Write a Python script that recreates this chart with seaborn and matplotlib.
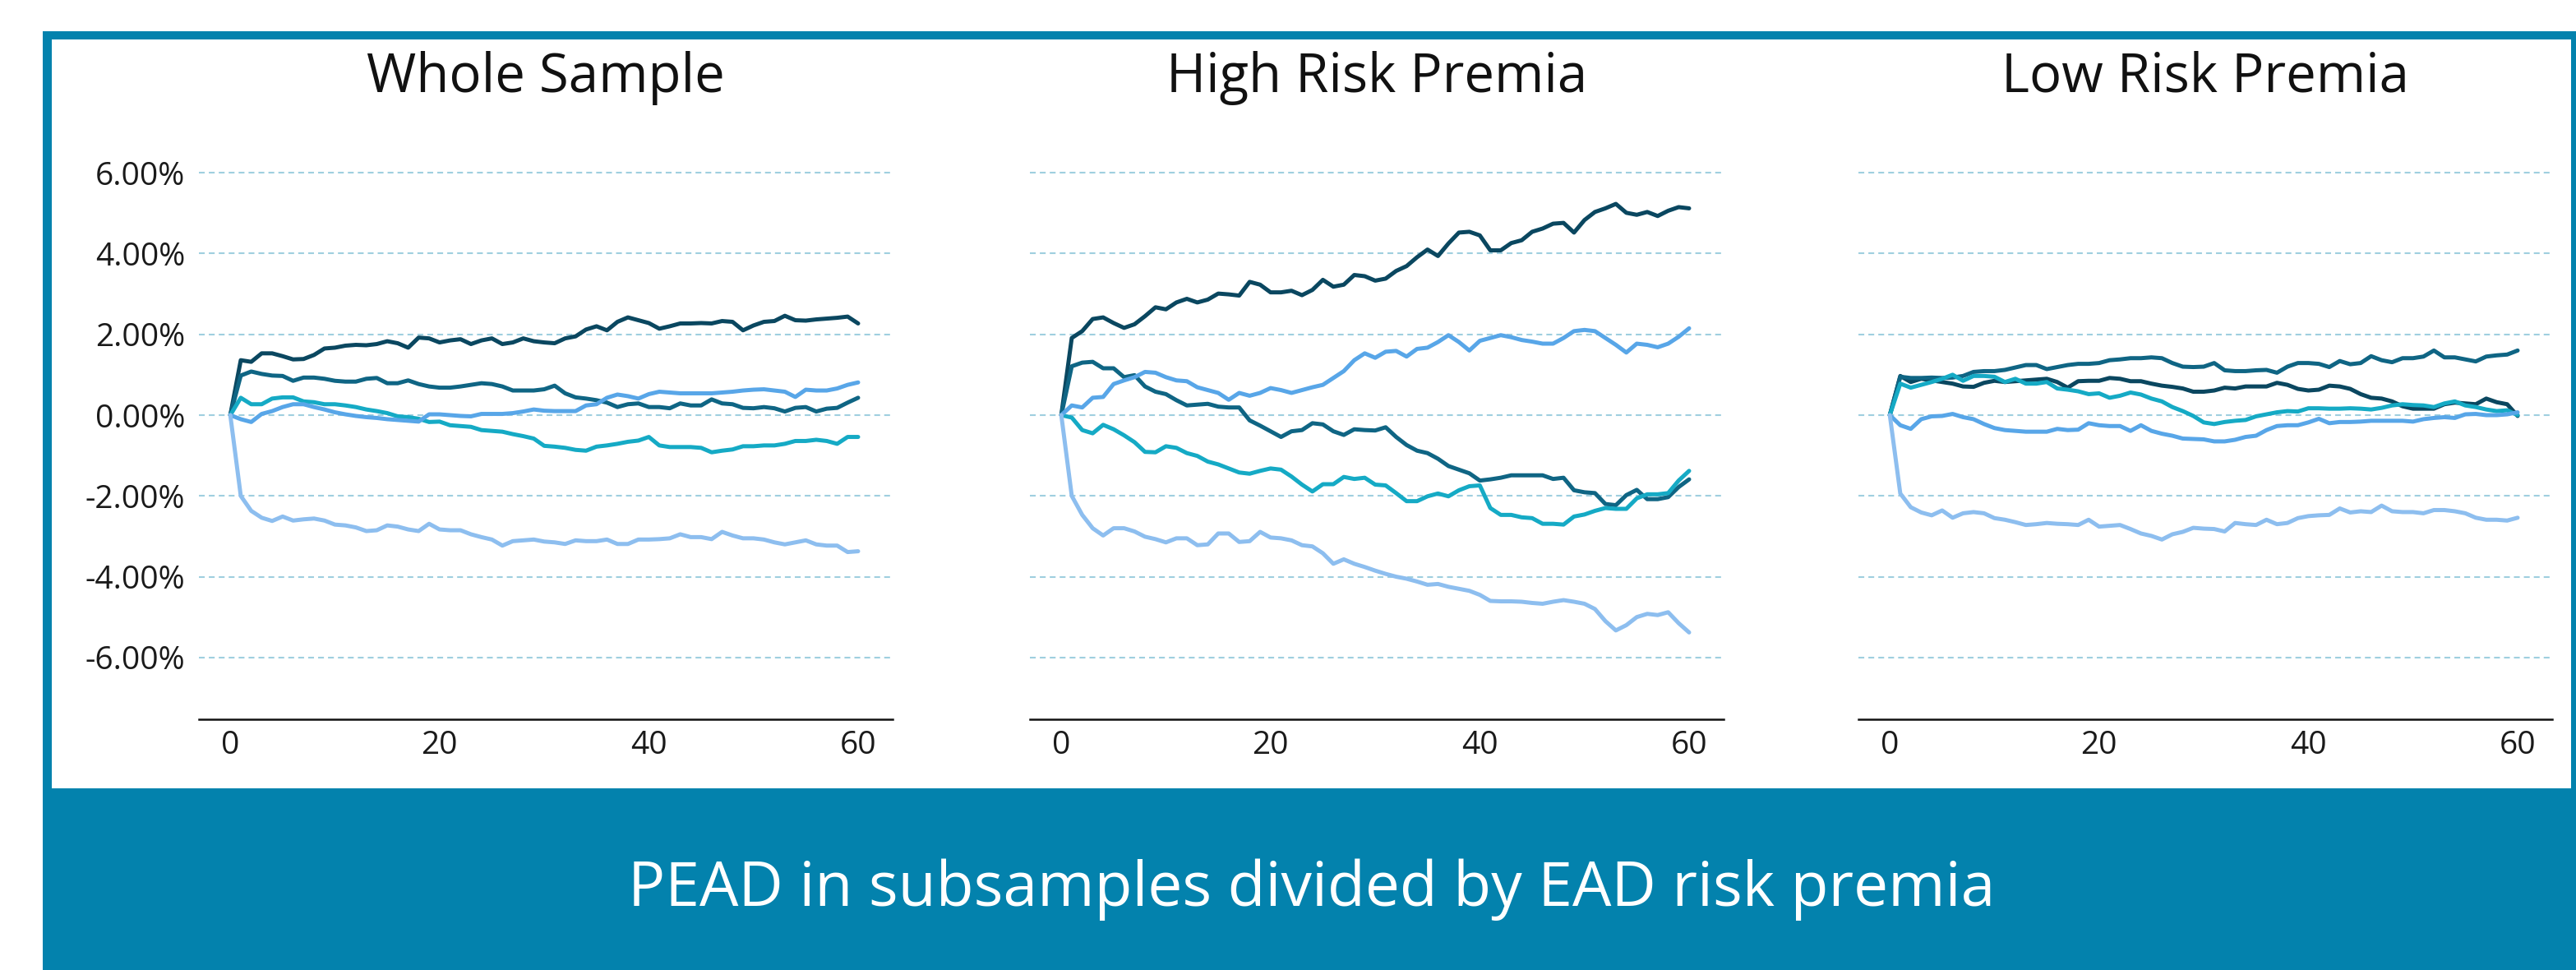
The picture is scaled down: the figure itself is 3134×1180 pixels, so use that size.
import pandas as pd
import seaborn as sns
import matplotlib
matplotlib.use("Agg")
import matplotlib.pyplot as plt
from matplotlib.patches import Rectangle
from matplotlib.ticker import FuncFormatter

W, H = 3134, 1180
TEAL = "#0382AD"

DAYS = list(range(61))
TITLES = ["Whole Sample", "High Risk Premia", "Low Risk Premia"]
SERIES = ["s1", "s2", "s3", "s4", "s5"]
COLORS = {"s1": "#0A4760", "s2": "#0F6584", "s3": "#15AAC5", "s4": "#58A6E8", "s5": "#8DBEEF"}
YTICKS = [-6, -4, -2, 0, 2, 4, 6]
XTICKS = [0, 20, 40, 60]
CAPTION = "PEAD in subsamples divided by EAD risk premia"

# whole sample (cumulative %)
whole_s1 = [0, 1.36, 1.32, 1.53, 1.53, 1.46, 1.38, 1.39, 1.49, 1.65, 1.67, 1.72, 1.74, 1.73, 1.76, 1.83, 1.78, 1.67, 1.92, 1.90,
            1.80, 1.85, 1.88, 1.76, 1.85, 1.90, 1.76, 1.80, 1.90, 1.83, 1.80, 1.78, 1.90, 1.95, 2.12, 2.20, 2.10, 2.31, 2.42, 2.35,
            2.28, 2.14, 2.20, 2.27, 2.27, 2.28, 2.27, 2.33, 2.31, 2.10, 2.22, 2.31, 2.33, 2.46, 2.35, 2.34, 2.37, 2.39, 2.41, 2.44, 2.27]
whole_s2 = [0, 0.98, 1.08, 1.02, 0.98, 0.97, 0.85, 0.93, 0.93, 0.90, 0.85, 0.83, 0.83, 0.90, 0.92, 0.79, 0.79, 0.86, 0.77, 0.71,
            0.68, 0.68, 0.71, 0.75, 0.79, 0.77, 0.71, 0.61, 0.61, 0.61, 0.64, 0.73, 0.54, 0.44, 0.41, 0.37, 0.31, 0.20, 0.27, 0.29,
            0.20, 0.20, 0.17, 0.29, 0.24, 0.24, 0.39, 0.29, 0.27, 0.18, 0.17, 0.20, 0.17, 0.09, 0.18, 0.20, 0.09, 0.16, 0.18, 0.31, 0.43]
whole_s3 = [0, 0.43, 0.27, 0.27, 0.41, 0.44, 0.44, 0.34, 0.32, 0.27, 0.27, 0.24, 0.20, 0.14, 0.10, 0.05, -0.03, -0.05, -0.09, -0.17,
            -0.16, -0.25, -0.27, -0.29, -0.37, -0.39, -0.41, -0.47, -0.52, -0.58, -0.76, -0.78, -0.81, -0.86, -0.88, -0.78, -0.75, -0.71, -0.66, -0.63,
            -0.54, -0.75, -0.79, -0.79, -0.79, -0.81, -0.92, -0.88, -0.85, -0.77, -0.77, -0.75, -0.75, -0.71, -0.64, -0.64, -0.61, -0.64, -0.71, -0.54, -0.54]
whole_s4 = [0, -0.10, -0.17, 0.03, 0.10, 0.20, 0.27, 0.27, 0.20, 0.14, 0.07, 0.02, -0.02, -0.05, -0.07, -0.10, -0.12, -0.14, -0.16, 0.02,
            0.02, 0.00, -0.02, -0.03, 0.03, 0.03, 0.03, 0.05, 0.09, 0.14, 0.11, 0.10, 0.10, 0.10, 0.24, 0.27, 0.43, 0.51, 0.47, 0.41,
            0.52, 0.58, 0.56, 0.54, 0.54, 0.54, 0.54, 0.56, 0.58, 0.61, 0.63, 0.64, 0.61, 0.58, 0.45, 0.63, 0.61, 0.61, 0.66, 0.75, 0.81]
whole_s5 = [0, -2.00, -2.37, -2.54, -2.62, -2.51, -2.61, -2.58, -2.56, -2.61, -2.71, -2.73, -2.78, -2.87, -2.85, -2.73, -2.76, -2.83, -2.87, -2.69,
            -2.83, -2.85, -2.85, -2.95, -3.02, -3.08, -3.23, -3.12, -3.10, -3.08, -3.13, -3.15, -3.19, -3.10, -3.12, -3.12, -3.08, -3.19, -3.19, -3.08,
            -3.08, -3.07, -3.05, -2.95, -3.02, -3.02, -3.07, -2.89, -2.98, -3.05, -3.05, -3.08, -3.15, -3.20, -3.15, -3.10, -3.20, -3.23, -3.23, -3.39, -3.37]

# high risk premia
high_s1 = [0, 1.91, 2.08, 2.38, 2.42, 2.28, 2.16, 2.25, 2.45, 2.67, 2.62, 2.79, 2.88, 2.79, 2.86, 3.01, 2.99, 2.96, 3.30, 3.23,
           3.04, 3.04, 3.08, 2.97, 3.10, 3.35, 3.18, 3.23, 3.47, 3.44, 3.33, 3.38, 3.57, 3.69, 3.91, 4.10, 3.94, 4.25, 4.52, 4.54,
           4.45, 4.08, 4.08, 4.26, 4.33, 4.54, 4.62, 4.74, 4.76, 4.52, 4.83, 5.03, 5.12, 5.23, 5.01, 4.96, 5.03, 4.93, 5.06, 5.15, 5.12]
high_s2 = [0, 1.21, 1.30, 1.32, 1.16, 1.16, 0.94, 0.99, 0.71, 0.58, 0.52, 0.37, 0.24, 0.26, 0.28, 0.21, 0.19, 0.19, -0.13, -0.26,
           -0.40, -0.54, -0.40, -0.37, -0.20, -0.23, -0.40, -0.49, -0.35, -0.37, -0.38, -0.30, -0.54, -0.74, -0.88, -0.94, -1.08, -1.26, -1.35, -1.44,
           -1.62, -1.59, -1.55, -1.49, -1.49, -1.49, -1.49, -1.58, -1.55, -1.86, -1.91, -1.93, -2.20, -2.23, -1.98, -1.85, -2.08, -2.08, -2.03, -1.78, -1.59]
high_s3 = [0, -0.06, -0.37, -0.45, -0.24, -0.35, -0.50, -0.67, -0.91, -0.92, -0.77, -0.81, -0.94, -1.01, -1.15, -1.22, -1.32, -1.42, -1.45, -1.38,
           -1.32, -1.35, -1.52, -1.72, -1.89, -1.71, -1.71, -1.53, -1.58, -1.55, -1.72, -1.74, -1.93, -2.13, -2.13, -2.01, -1.94, -2.01, -1.86, -1.76,
           -1.74, -2.30, -2.47, -2.47, -2.53, -2.55, -2.69, -2.69, -2.71, -2.51, -2.46, -2.37, -2.30, -2.32, -2.32, -2.06, -1.96, -1.96, -1.93, -1.62, -1.38]
high_s4 = [0, 0.24, 0.19, 0.43, 0.45, 0.77, 0.86, 0.94, 1.07, 1.05, 0.94, 0.86, 0.84, 0.69, 0.62, 0.55, 0.38, 0.55, 0.48, 0.55,
           0.67, 0.62, 0.55, 0.62, 0.69, 0.75, 0.92, 1.09, 1.36, 1.53, 1.42, 1.57, 1.59, 1.45, 1.64, 1.67, 1.81, 1.98, 1.81, 1.60,
           1.84, 1.91, 1.98, 1.93, 1.86, 1.82, 1.77, 1.77, 1.91, 2.08, 2.11, 2.08, 1.91, 1.74, 1.55, 1.77, 1.74, 1.68, 1.77, 1.94, 2.15]
high_s5 = [0, -2.00, -2.47, -2.80, -2.98, -2.80, -2.80, -2.88, -3.01, -3.07, -3.15, -3.05, -3.05, -3.22, -3.20, -2.93, -2.93, -3.14, -3.12, -2.89,
           -3.03, -3.05, -3.10, -3.22, -3.25, -3.42, -3.68, -3.57, -3.68, -3.76, -3.85, -3.93, -4.00, -4.05, -4.12, -4.20, -4.18, -4.25, -4.30, -4.35,
           -4.45, -4.60, -4.61, -4.61, -4.62, -4.65, -4.67, -4.62, -4.58, -4.62, -4.67, -4.80, -5.10, -5.33, -5.20, -5.00, -4.92, -4.95, -4.88, -5.15, -5.38]

# low risk premia
low_s1 = [0, 0.97, 0.82, 0.90, 0.86, 0.82, 0.78, 0.71, 0.70, 0.80, 0.85, 0.82, 0.84, 0.86, 0.88, 0.90, 0.82, 0.68, 0.84, 0.85,
          0.85, 0.92, 0.90, 0.84, 0.84, 0.78, 0.73, 0.70, 0.66, 0.58, 0.58, 0.61, 0.68, 0.66, 0.71, 0.71, 0.71, 0.80, 0.75, 0.65,
          0.61, 0.63, 0.73, 0.71, 0.65, 0.52, 0.43, 0.41, 0.34, 0.22, 0.16, 0.16, 0.16, 0.27, 0.31, 0.29, 0.27, 0.41, 0.32, 0.27, -0.02]
low_s2 = [0, 0.95, 0.92, 0.92, 0.93, 0.92, 0.93, 0.97, 1.07, 1.09, 1.09, 1.12, 1.18, 1.24, 1.24, 1.14, 1.19, 1.24, 1.27, 1.27,
          1.29, 1.36, 1.38, 1.41, 1.41, 1.43, 1.41, 1.29, 1.20, 1.19, 1.20, 1.29, 1.11, 1.09, 1.09, 1.11, 1.12, 1.05, 1.20, 1.29,
          1.29, 1.27, 1.19, 1.34, 1.26, 1.29, 1.46, 1.36, 1.31, 1.41, 1.41, 1.45, 1.60, 1.43, 1.43, 1.38, 1.33, 1.45, 1.48, 1.50, 1.60]
low_s3 = [0, 0.78, 0.68, 0.75, 0.82, 0.90, 1.00, 0.85, 0.97, 0.97, 0.95, 0.82, 0.90, 0.78, 0.78, 0.82, 0.66, 0.63, 0.59, 0.52,
          0.54, 0.43, 0.48, 0.56, 0.51, 0.41, 0.34, 0.20, 0.10, -0.02, -0.18, -0.22, -0.17, -0.14, -0.12, -0.03, 0.02, 0.07, 0.10, 0.09,
          0.17, 0.17, 0.16, 0.16, 0.17, 0.16, 0.14, 0.18, 0.24, 0.27, 0.25, 0.24, 0.20, 0.29, 0.34, 0.24, 0.20, 0.14, 0.10, 0.12, 0.00]
low_s4 = [0, -0.25, -0.34, -0.10, -0.03, -0.02, 0.03, -0.05, -0.10, -0.22, -0.32, -0.37, -0.39, -0.41, -0.41, -0.41, -0.34, -0.37, -0.36, -0.20,
          -0.25, -0.27, -0.27, -0.39, -0.25, -0.39, -0.46, -0.51, -0.58, -0.59, -0.60, -0.65, -0.65, -0.61, -0.54, -0.51, -0.37, -0.27, -0.25, -0.25,
          -0.18, -0.09, -0.20, -0.17, -0.17, -0.16, -0.14, -0.14, -0.14, -0.14, -0.16, -0.10, -0.07, -0.05, -0.07, 0.02, 0.03, 0.00, 0.00, 0.02, 0.07]
low_s5 = [0, -1.94, -2.28, -2.41, -2.48, -2.36, -2.54, -2.43, -2.40, -2.43, -2.55, -2.59, -2.65, -2.72, -2.70, -2.67, -2.69, -2.70, -2.72, -2.59,
          -2.76, -2.74, -2.72, -2.82, -2.93, -2.99, -3.08, -2.95, -2.89, -2.79, -2.81, -2.82, -2.88, -2.67, -2.70, -2.72, -2.59, -2.70, -2.67, -2.55,
          -2.50, -2.48, -2.47, -2.31, -2.41, -2.38, -2.40, -2.24, -2.38, -2.40, -2.40, -2.43, -2.35, -2.35, -2.38, -2.43, -2.54, -2.59, -2.59, -2.61, -2.54]

PANELS = [
  [whole_s1, whole_s2, whole_s3, whole_s4, whole_s5],
  [high_s1, high_s2, high_s3, high_s4, high_s5],
  [low_s1, low_s2, low_s3, low_s4, low_s5],
]


def to_long(series_list):
  frames = []
  for name, vals in zip(SERIES, series_list):
    frames.append(pd.DataFrame({"day": DAYS, "value": vals, "series": name}))
  return pd.concat(frames, ignore_index=True)


def px_rect(fig, x0, y0, x1, y1):
  # pixel box measured from the top-left corner
  fig.add_artist(Rectangle((x0 / W, 1 - y1 / H), (x1 - x0) / W, (y1 - y0) / H,
                           transform=fig.transFigure, facecolor=TEAL, edgecolor="none", zorder=0))


def main():
  sns.set_style("white")
  plt.rcParams["font.family"] = ["Open Sans", "DejaVu Sans"]

  fig = plt.figure(figsize=(W / 100, H / 100), dpi=100)
  fig.patch.set_facecolor("white")

  lefts = [242, 1253, 2261]
  for i, left in enumerate(lefts):
    ax = fig.add_axes([left / W, (H - 874.5) / H, 844 / W, 738 / H])
    df = to_long(PANELS[i])
    sns.lineplot(data=df, x="day", y="value", hue="series", hue_order=SERIES,
                 palette=COLORS, linewidth=3.6, legend=False, errorbar=None, ax=ax)
    ax.set_xlim(-3, 63.3)
    ax.set_ylim(-7.52, 7.5)
    ax.set_yticks(YTICKS)
    ax.set_xticks(XTICKS)
    ax.yaxis.set_major_formatter(FuncFormatter(lambda v, p: "%.2f%%" % v))
    ax.yaxis.grid(True, color="#9FCFDF", linestyle=(0, (3.4, 2.4)), linewidth=1.5)
    ax.set_axisbelow(True)
    ax.set_xlabel("")
    ax.set_ylabel("")
    ax.tick_params(axis="both", length=0, labelsize=28, labelcolor="#1a1a1a")
    ax.tick_params(axis="y", pad=12)
    ax.tick_params(axis="x", pad=10)
    if i > 0:
      ax.tick_params(axis="y", labelleft=False)
    for side in ["left", "right", "top"]:
      ax.spines[side].set_visible(False)
    ax.spines["bottom"].set_color("#111111")
    ax.spines["bottom"].set_linewidth(1.8)
    ax.set_title(TITLES[i], fontsize=47, pad=18, color="#111111")

  # frame and caption banner
  px_rect(fig, 52, 38, 3134, 48)
  px_rect(fig, 52, 38, 63, 1180)
  px_rect(fig, 3128, 38, 3134, 959)
  px_rect(fig, 52, 959, 3134, 1180)
  fig.text(1596 / W, 1 - 1082 / H, CAPTION, color="white", fontsize=54, ha="center", va="center")

  fig.savefig("out.png", dpi=100, facecolor="white")


if __name__ == '__main__':
  main()
